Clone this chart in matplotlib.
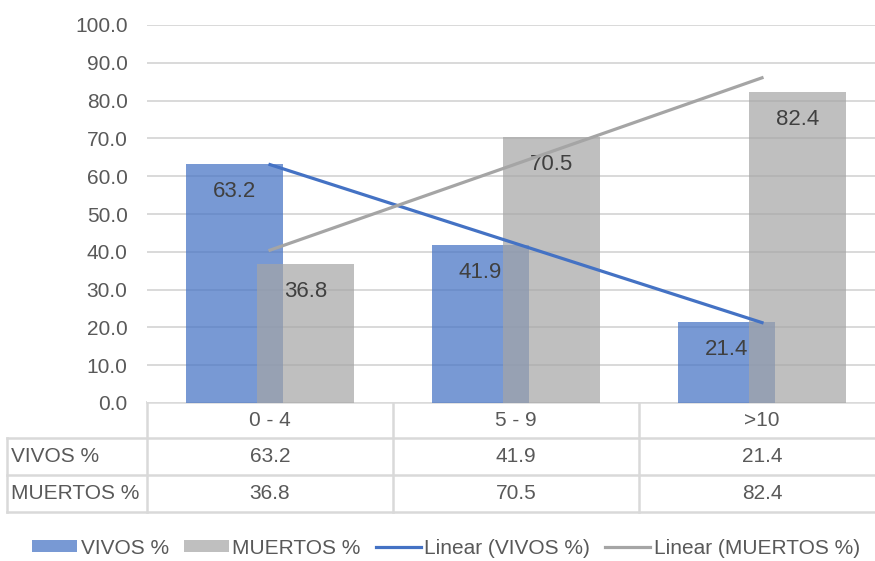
import numpy as np
import matplotlib
matplotlib.use("Agg")
import matplotlib.pyplot as plt
from matplotlib import font_manager
from matplotlib.transforms import blended_transform_factory

# data
categories = ["0 - 4", "5 - 9", ">10"]
vivos = [63.2, 41.9, 21.4]
muertos = [36.8, 70.5, 82.4]
series_names = ["VIVOS %", "MUERTOS %"]

installed = {f.name for f in font_manager.fontManager.ttflist}
narrow = "Liberation Sans Narrow" in installed
plt.rcParams["font.family"] = ["Liberation Sans Narrow" if narrow else "Liberation Sans", "DejaVu Sans"]
fs = 17 if narrow else 15

TXT = "#595959"
LAB = "#404040"
GRID = "#d9d9d9"
BLUE = "#4472C4"
GREY = "#A5A5A5"

W, H = 875, 561
fig = plt.figure(figsize=(W / 100, H / 100), dpi=100)

# main plot area (right edge runs past the figure)
ax = fig.add_axes([147 / W, 1 - 403 / H, 738 / W, 378 / H])
x = np.arange(len(categories))
bw = 0.394
off = 0.146

b1 = ax.bar(x - off, vivos, bw, color=BLUE, alpha=0.72, zorder=2, label=series_names[0])
b2 = ax.bar(x + off, muertos, bw, color=GREY, alpha=0.7, zorder=2, label=series_names[1])

for bars, vals in ((b1, vivos), (b2, muertos)):
    for r, v in zip(bars, vals):
        ax.annotate(f"{v:.1f}", (r.get_x() + r.get_width() / 2, v),
                    xytext=(0, -20), textcoords="offset points",
                    ha="center", va="center", fontsize=fs + 1, color=LAB, zorder=3)

# linear trendlines
pv = np.polyfit(x, vivos, 1)
pm = np.polyfit(x, muertos, 1)
l1, = ax.plot(x[[0, -1]], np.polyval(pv, x[[0, -1]]), color=BLUE, lw=2.3, zorder=4,
              label="Linear (VIVOS %)")
l2, = ax.plot(x[[0, -1]], np.polyval(pm, x[[0, -1]]), color=GREY, lw=2.3, zorder=4,
              label="Linear (MUERTOS %)")

ax.set_xlim(-0.5, len(categories) - 0.5)
ax.set_ylim(0, 100)
ax.set_yticks(np.arange(0, 101, 10))
ax.yaxis.set_major_formatter(matplotlib.ticker.FormatStrFormatter("%.1f"))
ax.grid(axis="y", color=GRID, lw=1.4, zorder=0)
ax.set_axisbelow(True)
ax.tick_params(axis="y", length=0, pad=14, labelsize=fs, labelcolor=TXT)
ax.tick_params(axis="x", length=0, labelbottom=False)
for s in ax.spines.values():
    s.set_visible(False)

# data table under the plot, pixel coords on an overlay axes
tax = fig.add_axes([0, 0, 1, 1], zorder=-1)
tax.set_xlim(0, W)
tax.set_ylim(H, 0)
tax.axis("off")
tr = blended_transform_factory(ax.transData, tax.transData)

rows = [402, 438, 475, 512]
left, lab_right = 7, 147
lc = dict(color=GRID, lw=1.8)
tax.plot([lab_right, W], [rows[0]] * 2, **lc)
for y in rows[1:]:
    tax.plot([left, W], [y, y], **lc)
tax.plot([left, left], [rows[1], rows[-1]], **lc)
for xb in np.arange(-0.5, len(categories), 1.0):
    tax.plot([xb, xb], [rows[0], rows[-1]], transform=tr, **lc)

ymid = [(rows[i] + rows[i + 1]) / 2 for i in range(3)]
for i, c in enumerate(categories):
    tax.text(i, ymid[0], c, transform=tr, ha="center", va="center", fontsize=fs, color=TXT)
for r, (name, vals) in enumerate(zip(series_names, (vivos, muertos)), start=1):
    tax.text(11, ymid[r], name, ha="left", va="center", fontsize=fs, color=TXT)
    for i, v in enumerate(vals):
        tax.text(i, ymid[r], f"{v:.1f}", transform=tr, ha="center", va="center",
                 fontsize=fs, color=TXT)

fig.legend(handles=[b1, b2, l1, l2], loc="center", bbox_to_anchor=(446 / W, 1 - 548 / H),
           ncol=4, frameon=False, fontsize=fs, labelcolor=TXT,
           handlelength=2.15, handleheight=0.48, handletextpad=0.18, columnspacing=0.72)

fig.savefig("out.png", dpi=100)
